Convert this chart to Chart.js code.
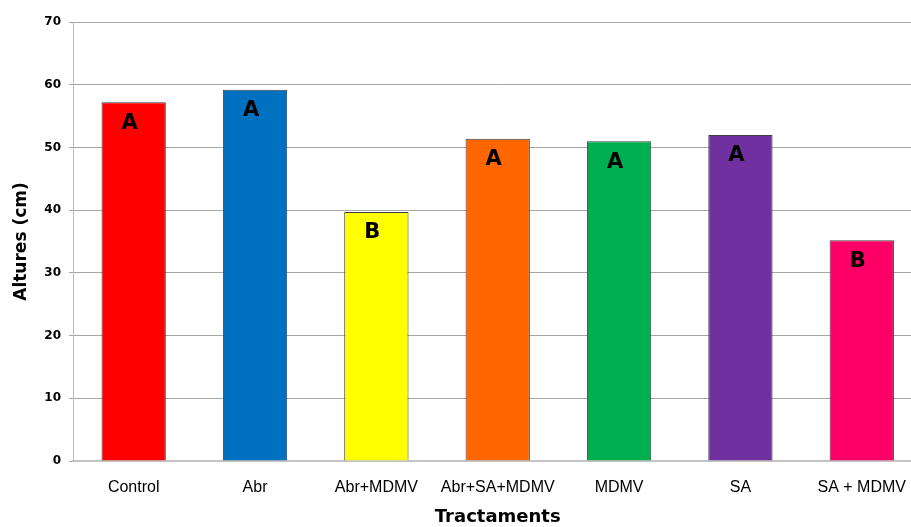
<!DOCTYPE html>
<html>
<head>
<meta charset="utf-8">
<script src="https://cdn.jsdelivr.net/npm/chart.js@4"></script>
<style>
    html, body { margin: 0; padding: 0; background: #fff; overflow: hidden; }
    #wrap { position: absolute; left: 0; top: 0; width: 923px; height: 527px; }
</style>
</head>
<body>
<div id="wrap"><canvas id="alturesChart" width="923" height="527"></canvas></div>
<script>
// Plant heights per treatment, with significance groups
const treatments = ["Control", "Abr", "Abr+MDMV", "Abr+SA+MDMV", "MDMV", "SA", "SA + MDMV"];
const heights = [57.2, 59.2, 39.7, 51.4, 51.0, 52.0, 35.2];
const groups = ["A", "A", "B", "A", "A", "A", "B"];
const barColors = ["#ff0000", "#0070c0", "#ffff00", "#ff6600", "#00b050", "#7030a0", "#ff0066"];
const yTicks = [0, 10, 20, 30, 40, 50, 60, 70];

// Writes the group letter just under the top of each bar
const groupLetters = {
    id: "groupLetters",
    afterDatasetsDraw(chart) {
        const ctx = chart.ctx;
        const meta = chart.getDatasetMeta(0);
        ctx.save();
        ctx.font = "bold 21px 'DejaVu Sans'";
        ctx.fillStyle = "#000";
        ctx.textAlign = "center";
        ctx.textBaseline = "middle";
        meta.data.forEach((bar, i) => {
            ctx.fillText(groups[i], bar.x - 4, bar.y + 21);
        });
        ctx.restore();
    }
};

document.addEventListener("DOMContentLoaded", () => {
    const ctx = document.getElementById("alturesChart").getContext("2d");
    new Chart(ctx, {
        type: "bar",
        data: {
            labels: treatments,
            datasets: [{
                data: heights,
                backgroundColor: barColors,
                borderColor: "#404040",
                borderWidth: 1,
                barPercentage: 0.53,
                categoryPercentage: 1
            }]
        },
        options: {
            responsive: false,
            devicePixelRatio: 1,
            animation: false,
            layout: { padding: { top: 22, left: 0, right: 0, bottom: 0 } },
            plugins: {
                legend: { display: false },
                tooltip: { enabled: false }
            },
            scales: {
                x: {
                    grid: { display: false, drawTicks: false },
                    border: { display: true, color: "#c4c4c4", width: 2 },
                    ticks: {
                        color: "#000",
                        padding: 17,
                        maxRotation: 0,
                        autoSkip: false,
                        font: { family: "'Liberation Sans', Arial", size: 16 }
                    },
                    title: {
                        display: true,
                        text: "Tractaments",
                        color: "#000",
                        padding: { top: 0, bottom: 1 },
                        font: { family: "'DejaVu Sans'", size: 18, weight: "bold", lineHeight: 1 }
                    },
                    afterFit(scale) { scale.height = 66; }
                },
                y: {
                    min: 0,
                    max: 70,
                    afterBuildTicks(scale) { scale.ticks = yTicks.map(v => ({ value: v })); },
                    grid: { color: "#a6a6a6", lineWidth: 1, drawTicks: true, tickLength: 4 },
                    border: { display: true, color: "#bcbcbc", width: 1 },
                    ticks: {
                        color: "#000",
                        padding: 8,
                        font: { family: "'DejaVu Sans'", size: 12, weight: "bold" }
                    },
                    title: {
                        display: true,
                        text: "Altures (cm)",
                        color: "#000",
                        padding: { top: 13, bottom: 0 },
                        font: { family: "'DejaVu Sans'", size: 17, weight: "bold", lineHeight: 1 }
                    },
                    afterFit(scale) { scale.width = 73; }
                }
            }
        },
        plugins: [groupLetters]
    });
});
</script>
</body>
</html>
